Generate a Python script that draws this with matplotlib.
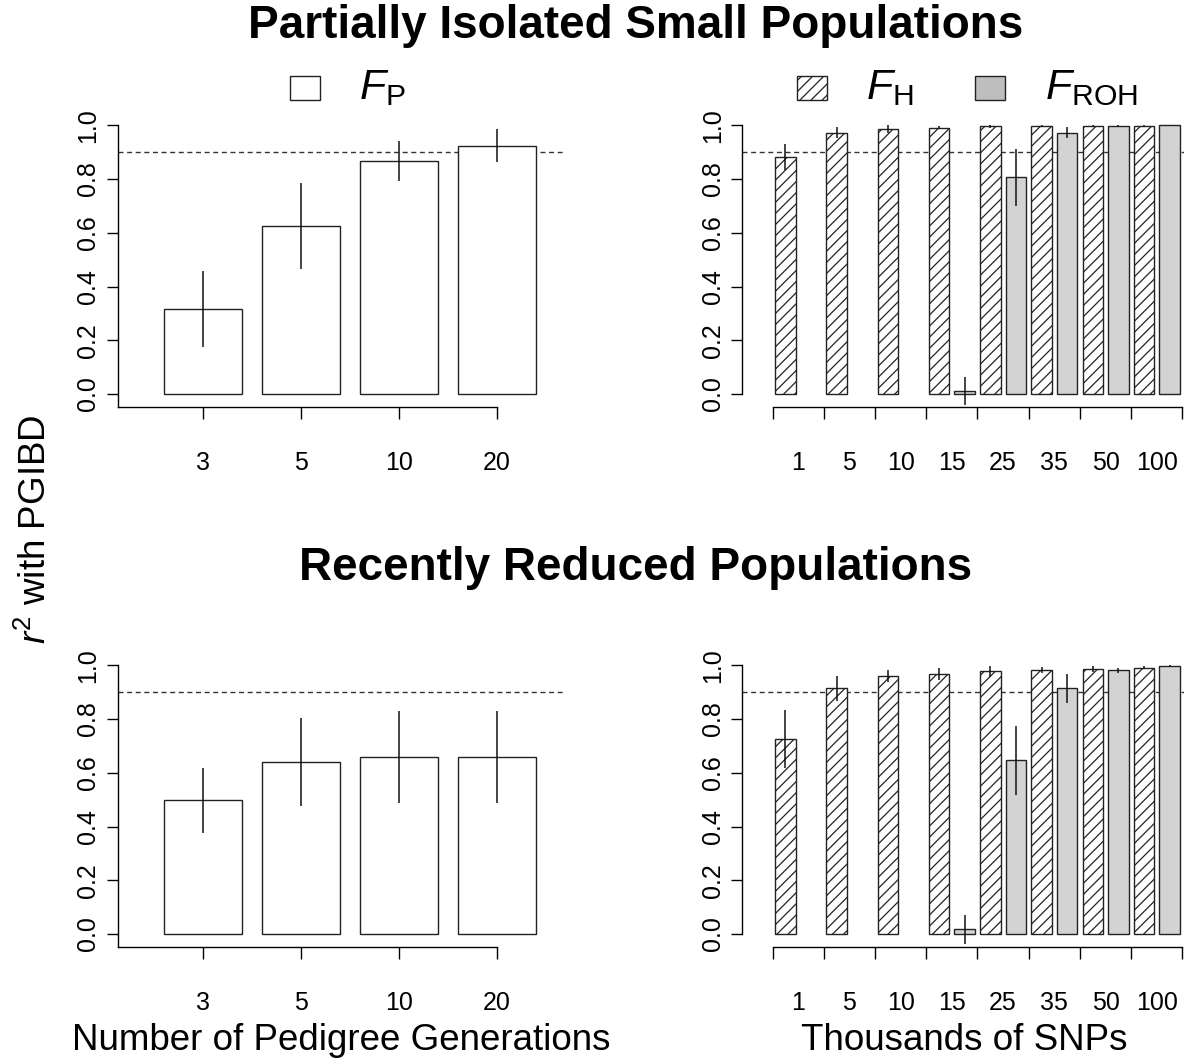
import numpy as np
import matplotlib
matplotlib.use("Agg")
import matplotlib.pyplot as plt
from matplotlib.patches import Rectangle

plt.rcParams['font.family'] = ['Liberation Sans', 'DejaVu Sans']
plt.rcParams['mathtext.fontset'] = 'custom'
plt.rcParams['mathtext.rm'] = 'Liberation Sans'
plt.rcParams['mathtext.it'] = 'Liberation Sans:italic'
plt.rcParams['hatch.linewidth'] = 0.9

# ---- data -------------------------------------------------------------
generations = ['3', '5', '10', '20']
snp_thousands = ['1', '5', '10', '15', '25', '35', '50', '100']
y_ticks = [0.0, 0.2, 0.4, 0.6, 0.8, 1.0]
threshold = 0.9

# Partially isolated small populations
fp_isolated = [0.317, 0.626, 0.868, 0.924]
fp_isolated_err = [0.141, 0.161, 0.075, 0.062]
fh_isolated = [0.883, 0.973, 0.986, 0.991, 0.996, 0.996, 0.999, 0.999]
fh_isolated_err = [0.049, 0.020, 0.015, 0.005, 0.005, 0.004, 0.002, 0.001]
froh_isolated = [np.nan, np.nan, np.nan, 0.012, 0.806, 0.973, 0.996, 1.000]
froh_isolated_err = [np.nan, np.nan, np.nan, 0.052, 0.105, 0.022, 0.004, 0.001]

# Recently reduced populations
fp_reduced = [0.498, 0.640, 0.659, 0.659]
fp_reduced_err = [0.121, 0.165, 0.172, 0.172]
fh_reduced = [0.726, 0.914, 0.959, 0.969, 0.978, 0.983, 0.986, 0.991]
fh_reduced_err = [0.108, 0.046, 0.023, 0.022, 0.020, 0.012, 0.010, 0.006]
froh_reduced = [np.nan, np.nan, np.nan, 0.017, 0.646, 0.914, 0.981, 0.998]
froh_reduced_err = [np.nan, np.nan, np.nan, 0.053, 0.129, 0.054, 0.010, 0.003]

# ---- layout -----------------------------------------------------------
W, H = 1184, 1061
fig = plt.figure(figsize=(W / 100, H / 100), dpi=100)

EDGE = '#222222'
GREY = '#d3d3d3'
TICK_FS = 18
YLIM = (-0.047, 1.04)


def add_px_axes(x0, y0, x1, y1):
    return fig.add_axes([x0 / W, 1 - y1 / H, (x1 - x0) / W, (y1 - y0) / H])


def style_y(ax, spine_bottom):
    ax.set_ylim(*YLIM)
    ax.set_yticks(y_ticks)
    ax.set_yticklabels([f'{t:.1f}' for t in y_ticks])
    ax.tick_params(axis='y', length=7.7, width=1.0, pad=5, labelsize=TICK_FS,
                   labelrotation=90)
    for lab in ax.get_yticklabels():
        lab.set_va('center')
    ax.spines['left'].set_bounds(spine_bottom, 1.0)
    for s in ('top', 'right'):
        ax.spines[s].set_visible(False)
    for s in ('left', 'bottom'):
        ax.spines[s].set_linewidth(1.0)
    ax.axhline(threshold, ls=(0, (3.6, 2.6)), color='#333333', lw=1.0, zorder=0.5)


def pedigree_panel(ax, vals, errs):
    x = np.arange(len(generations))
    ax.set_xlim(-0.867, 3.673)
    ax.bar(x, vals, width=0.8, facecolor='white', edgecolor=EDGE, lw=1.0, zorder=2)
    v, e = np.array(vals), np.array(errs)
    ax.vlines(x, v - e, v + e, color='#111111', lw=1.1, zorder=3)
    style_y(ax, YLIM[0])
    ax.set_xticks(x)
    ax.set_xticklabels(generations)
    ax.tick_params(axis='x', length=8.6, width=1.0, pad=23, labelsize=TICK_FS)
    ax.spines['bottom'].set_bounds(-0.867, x[-1])


def snp_panel(ax, fh, fh_err, froh, froh_err):
    n = len(snp_thousands)
    xh = np.arange(n) * 2
    xr = xh + 1
    ax.set_xlim(-1.68, 15.56)
    ax.bar(xh, fh, width=0.8, facecolor='white', edgecolor=EDGE, hatch='///',
           lw=1.0, zorder=2)
    ax.bar(xr, froh, width=0.8, facecolor=GREY, edgecolor=EDGE, lw=1.0, zorder=2)
    for xs, v, e in ((xh, fh, fh_err), (xr, froh, froh_err)):
        v, e = np.array(v), np.array(e)
        ok = ~np.isnan(v)
        ax.vlines(xs[ok], (v - e)[ok], (v + e)[ok], color='#111111', lw=1.1, zorder=3)
    style_y(ax, 0.0)
    bounds = np.arange(n + 1) * 2 - 0.5
    ax.set_xticks(bounds)
    ax.set_xticklabels([''] * len(bounds))
    ax.set_xticks(xh + 0.5, minor=True)
    ax.set_xticklabels(snp_thousands, minor=True)
    ax.tick_params(axis='x', which='major', length=8.6, width=1.0)
    ax.tick_params(axis='x', which='minor', length=0, pad=31.6, labelsize=TICK_FS)
    ax.spines['bottom'].set_bounds(bounds[0], bounds[-1])


# pixel boxes of the four plotting regions
top_y0, top_y1 = 394 - 1.04 * 268.7, 394 + 0.047 * 268.7
bot_y0, bot_y1 = 934 - 1.04 * 268.7, 934 + 0.047 * 268.7

ax_tl = add_px_axes(118, top_y0, 563, top_y1)
ax_tr = add_px_axes(742.3, top_y0, 1184, top_y1)
ax_bl = add_px_axes(118, bot_y0, 563, bot_y1)
ax_br = add_px_axes(742.3, bot_y0, 1184, bot_y1)

pedigree_panel(ax_tl, fp_isolated, fp_isolated_err)
snp_panel(ax_tr, fh_isolated, fh_isolated_err, froh_isolated, froh_isolated_err)
pedigree_panel(ax_bl, fp_reduced, fp_reduced_err)
snp_panel(ax_br, fh_reduced, fh_reduced_err, froh_reduced, froh_reduced_err)

# ---- titles and labels -------------------------------------------------
def ftext(x, y, s, **kw):
    return fig.text(x / W, 1 - y / H, s, **kw)

ftext(636, 26, 'Partially Isolated Small Populations', ha='center', va='center',
      fontsize=33, fontweight='bold')
ftext(636, 568, 'Recently Reduced Populations', ha='center', va='center',
      fontsize=33, fontweight='bold')
ftext(341, 1040, 'Number of Pedigree Generations', ha='center', va='center',
      fontsize=26.5)
ftext(964, 1040, 'Thousands of SNPs', ha='center', va='center', fontsize=26.5)
ftext(36, 529, r'$r^{2}$ with PGIBD', ha='center', va='center', rotation=90,
      fontsize=26.5)

# ---- legend keys ------------------------------------------------------
def key(x0, face, hatch=None):
    r = Rectangle((x0 / W, 1 - 100 / H), 30 / W, 24 / H, transform=fig.transFigure,
                  facecolor=face, edgecolor=EDGE, lw=1.0, hatch=hatch)
    fig.patches.append(r)

key(290, 'white')
key(797, 'white', hatch='///')
key(975, '#bebebe')
ftext(359, 88, r'$F_{\mathrm{P}}$', ha='left', va='center', fontsize=31)
ftext(866, 88, r'$F_{\mathrm{H}}$', ha='left', va='center', fontsize=31)
ftext(1045, 88, r'$F_{\mathrm{ROH}}$', ha='left', va='center', fontsize=31)

fig.savefig('out.png', dpi=100)
